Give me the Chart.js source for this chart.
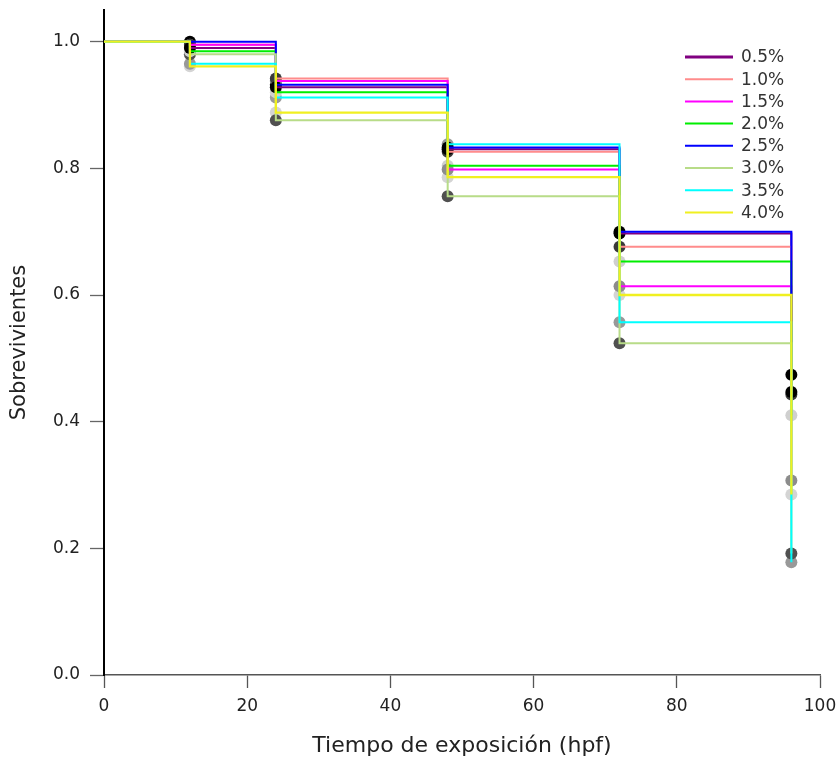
<!DOCTYPE html>
<html>
<head>
<meta charset="utf-8">
<script src="https://cdn.jsdelivr.net/npm/chart.js@4.4.1/dist/chart.umd.min.js"></script>
<style>
  html, body { margin: 0; padding: 0; background: #fff; }
  #wrap { width: 839px; height: 761px; }
</style>
</head>
<body>
<div id="wrap"><canvas id="grafico"></canvas></div>
<script>
// tiempos (hpf) y supervivencia por concentracion
const tiempos = [0, 12, 24, 48, 72, 96];
const etiquetas = ['0.5%', '1.0%', '1.5%', '2.0%', '2.5%', '3.0%', '3.5%', '4.0%'];
const s05 = [1, 0.990, 0.928, 0.830, 0.697, 0.447];
const s10 = [1, 0.995, 0.942, 0.826, 0.676, 0.443];
const s15 = [1, 0.995, 0.938, 0.798, 0.614, 0.307];
const s20 = [1, 0.985, 0.920, 0.804, 0.653, 0.410];
const s25 = [1, 1.000, 0.932, 0.833, 0.700, 0.474];
const s30 = [1, 0.980, 0.876, 0.756, 0.524, 0.192];
const s35 = [1, 0.965, 0.912, 0.838, 0.557, 0.178];
const s40 = [1, 0.961, 0.888, 0.786, 0.600, 0.285];
const series = [s05, s10, s15, s20, s25, s30, s35, s40];

const colores = ['#800080', '#ff8c8c', '#ff00ff', '#00ee00', '#0000ff', '#b8dc88', '#00ffff', '#f0f020'];
const grises = ['#000000', '#3a3a3a', '#8c8c8c', '#cfcfcf', '#000000', '#505050', '#999999', '#d4d4d4'];
const fuente = '"DejaVu Sans", Arial, sans-serif';

let datasets = [];
series.forEach(function (s, i) {
    datasets.push({
        label: etiquetas[i],
        data: tiempos.map(function (t, k) { return { x: t, y: s[k] }; }),
        borderColor: colores[i],
        borderWidth: i === 7 ? 2.3 : 2,
        stepped: true,
        pointRadius: 0,
        fill: false,
        order: 20 - i
    });
});
series.forEach(function (s, i) {
    datasets.push({
        label: 'pts' + i,
        type: 'scatter',
        data: tiempos.slice(1).map(function (t, k) { return { x: t, y: s[k + 1] }; }),
        backgroundColor: grises[i],
        borderWidth: 0,
        pointRadius: 6,
        order: 50
    });
});

// leyenda dentro del area del grafico
const leyenda = {
    id: 'leyenda',
    afterDraw(chart) {
        const ctx = chart.ctx;
        ctx.save();
        ctx.font = '17px ' + fuente;
        ctx.textBaseline = 'middle';
        etiquetas.forEach(function (e, i) {
            const y = 57 + i * 22.2;
            ctx.strokeStyle = colores[i];
            ctx.lineWidth = i === 0 ? 3 : 2;
            ctx.beginPath();
            ctx.moveTo(685, y);
            ctx.lineTo(733, y);
            ctx.stroke();
            ctx.fillStyle = '#333';
            ctx.fillText(e, 741, y + 1);
        });
        ctx.restore();
    }
};

new Chart(document.getElementById('grafico').getContext('2d'), {
    type: 'line',
    data: { datasets: datasets },
    options: {
        responsive: true,
        maintainAspectRatio: false,
        animation: false,
        layout: { padding: { left: 0, right: 19, top: 10, bottom: 0 } },
        plugins: { legend: { display: false }, tooltip: { enabled: false } },
        scales: {
            x: {
                type: 'linear',
                min: 0,
                max: 100,
                afterFit(s) {
                    s.height = 86;
                    s.paddingLeft = 0;
                    s.paddingRight = 0;
                },
                ticks: {
                    stepSize: 20,
                    padding: 8,
                    color: '#222',
                    font: { size: 17, family: fuente }
                },
                grid: { drawOnChartArea: false, tickLength: 13, tickColor: '#555', tickWidth: 1.3 },
                border: { color: '#555', width: 1.5 },
                title: {
                    display: true,
                    text: 'Tiempo de exposición (hpf)',
                    color: '#222',
                    padding: { top: 0, bottom: 2 },
                    font: { size: 22, family: fuente }
                }
            },
            y: {
                type: 'linear',
                min: 0,
                max: 1.05,
                afterFit(s) {
                    s.width = 104;
                    s.paddingTop = 0;
                    s.paddingBottom = 0;
                },
                afterBuildTicks(s) {
                    s.ticks = [0, 0.2, 0.4, 0.6, 0.8, 1.0].map(function (v) { return { value: v }; });
                },
                ticks: {
                    padding: 10,
                    color: '#222',
                    callback: function (v) { return v.toFixed(1); },
                    font: { size: 17, family: fuente }
                },
                grid: { drawOnChartArea: false, tickLength: 14, tickColor: '#666', tickWidth: 1.3 },
                border: { color: '#000', width: 2 },
                title: {
                    display: true,
                    text: 'Sobrevivientes',
                    color: '#222',
                    padding: { top: 7, bottom: 0 },
                    font: { size: 21, family: fuente }
                }
            }
        }
    },
    plugins: [leyenda]
});
</script>
</body>
</html>
